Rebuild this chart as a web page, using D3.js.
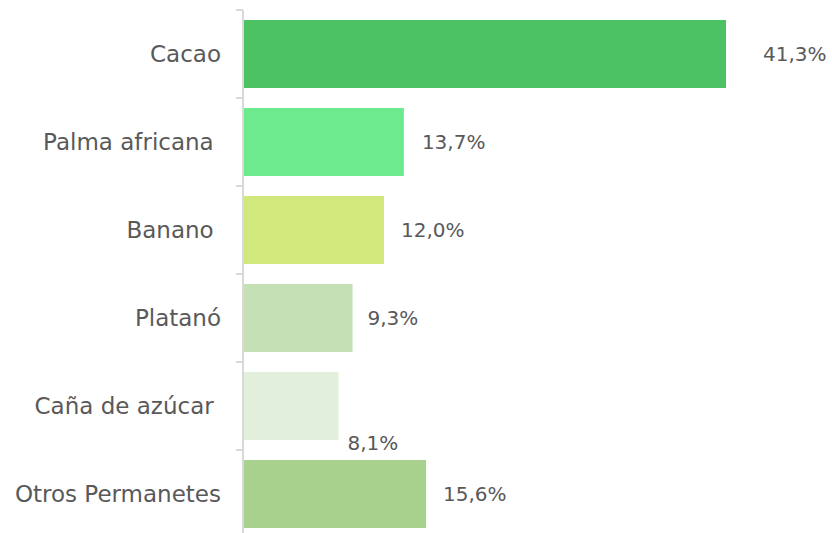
<!DOCTYPE html>
<html>
<head>
<meta charset="utf-8">
<script src="https://cdn.jsdelivr.net/npm/d3@7"></script>
<style>
  html, body { margin: 0; padding: 0; background: #ffffff; }
  svg { display: block; }
  text { font-family: "DejaVu Sans", sans-serif; fill: #595959; white-space: pre; }
</style>
</head>
<body>
<svg id="chart" width="832" height="533"></svg>
<script>
// ---- data ----
const categories = ["Cacao", "Palma africana ", "Banano ", "Platanó", "Caña de azúcar ", "Otros Permanetes"];
const values = [41.3, 13.7, 12.0, 9.3, 8.1, 15.6];
const valueLabels = ["41,3%", "13,7%", "12,0%", "9,3%", "8,1%", "15,6%"];
const barColors = ["#4CC262", "#6EEA8E", "#D1E97C", "#C5E0B4", "#E2EFDA", "#A9D18E"];
// label nudges (layout only)
const labelDx = [37, 18, 17, 15, 9, 17];
const labelDy = [0, 0, 0, 0, 37, 0];

// ---- layout ----
const svg = d3.select("#chart");
const axisX = 243;

const y = d3.scaleBand()
  .domain(categories)
  .range([10, 538])
  .paddingInner(0.227)
  .paddingOuter(0.1135);

const x = d3.scaleLinear()
  .domain([0, 41.3])
  .range([axisX + 1, 726]);

// bars
svg.append("g").selectAll("rect")
  .data(categories)
  .join("rect")
  .attr("x", x(0))
  .attr("y", d => y(d))
  .attr("width", (d, i) => x(values[i]) - x(0))
  .attr("height", y.bandwidth())
  .attr("fill", (d, i) => barColors[i]);

// axis line + ticks at band boundaries
const step = y.step();
const bounds = categories.map(c => y(c) - step * y.paddingInner() / 2);
bounds.push(bounds[bounds.length - 1] + step);
const axisG = svg.append("g");
axisG.append("line")
  .attr("x1", axisX).attr("x2", axisX)
  .attr("y1", bounds[0]).attr("y2", 540)
  .attr("stroke", "#D9D9D9").attr("stroke-width", 2);
axisG.selectAll("line.tick")
  .data(bounds)
  .join("line")
  .attr("class", "tick")
  .attr("x1", axisX - 7).attr("x2", axisX)
  .attr("y1", d => d).attr("y2", d => d)
  .attr("stroke", "#D9D9D9").attr("stroke-width", 2);

// category labels
svg.append("g").selectAll("text")
  .data(categories)
  .join("text")
  .attr("x", 221)
  .attr("y", d => y(d) + y.bandwidth() / 2)
  .attr("text-anchor", "end")
  .attr("dominant-baseline", "central")
  .attr("font-size", 23)
  .text(d => d);

// value labels
svg.append("g").selectAll("text")
  .data(categories)
  .join("text")
  .attr("x", (d, i) => x(values[i]) + labelDx[i])
  .attr("y", (d, i) => y(d) + y.bandwidth() / 2 + labelDy[i])
  .attr("text-anchor", "start")
  .attr("dominant-baseline", "central")
  .attr("font-size", 20)
  .text((d, i) => valueLabels[i]);
</script>
</body>
</html>
